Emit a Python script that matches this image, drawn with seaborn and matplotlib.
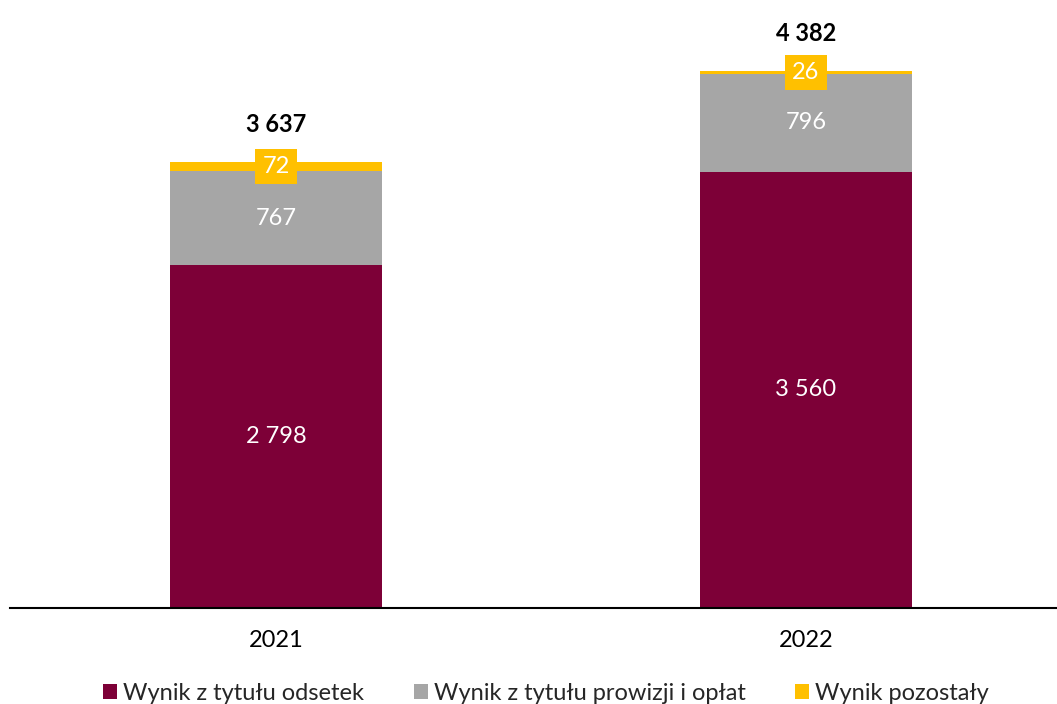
import matplotlib
matplotlib.use("Agg")
import matplotlib.pyplot as plt
from matplotlib.patches import Patch
import seaborn as sns
import pandas as pd
import numpy as np

years = ["2021", "2022"]
odsetki = [2798, 3560]
prowizje = [767, 796]
pozostaly = [72, 26]
series_names = ["Wynik z tytułu odsetek", "Wynik z tytułu prowizji i opłat", "Wynik pozostały"]
colors = ["#7D0037", "#A6A6A6", "#FFC000"]

sns.set_theme(style="white")
plt.rcParams["font.family"] = ["Lato", "DejaVu Sans"]

fig = plt.figure(figsize=(10.57, 7.04), dpi=100)
ax = fig.add_axes([10/1057, 96/704, 1047/1057, 608/704])

c1 = np.array(odsetki)
c2 = c1 + np.array(prowizje)
c3 = c2 + np.array(pozostaly)

df = pd.DataFrame({"year": years, "c1": c1, "c2": c2, "c3": c3})
W = 0.4
sns.barplot(data=df, x="year", y="c3", color=colors[2], saturation=1, width=W, ax=ax)
sns.barplot(data=df, x="year", y="c2", color=colors[1], saturation=1, width=W, ax=ax)
sns.barplot(data=df, x="year", y="c1", color=colors[0], saturation=1, width=W, ax=ax)
for p in ax.patches:
    p.set_linewidth(0)

for i in range(len(years)):
    ax.text(i, c1[i] / 2, f"{odsetki[i]:,}".replace(",", " "), ha="center", va="center",
            color="white", fontsize=17)
    ax.text(i, c1[i] + prowizje[i] / 2, f"{prowizje[i]:,}".replace(",", " "), ha="center",
            va="center", color="white", fontsize=17)
    ax.text(i, c2[i] + pozostaly[i] / 2, f"{pozostaly[i]}", ha="center", va="center",
            color="white", fontsize=17,
            bbox=dict(boxstyle="square,pad=0.3", facecolor=colors[2], edgecolor="none"))
    ax.annotate(f"{c3[i]:,}".replace(",", " "), (i, c3[i]), xytext=(0, 27),
                textcoords="offset points", ha="center", va="center",
                fontsize=17, fontweight="bold", color="black")

ax.set_xlim(-0.502, 1.474)
ax.set_ylim(0, 4960)
ax.set_xlabel("")
ax.set_ylabel("")
ax.set_yticks([])
ax.tick_params(axis="x", length=0, labelsize=17, pad=16, colors="black")
for s in ["top", "right", "left"]:
    ax.spines[s].set_visible(False)
ax.spines["bottom"].set_color("black")
ax.spines["bottom"].set_linewidth(1.5)

handles = [Patch(facecolor=c, edgecolor="none") for c in colors]
fig.legend(handles, series_names, loc="center", bbox_to_anchor=(0.5166, 11/704), ncol=3,
           frameon=False, fontsize=17, handlelength=0.6, handleheight=0.6,
           handletextpad=0.25, columnspacing=2.1)

fig.savefig("out.png", dpi=100)
